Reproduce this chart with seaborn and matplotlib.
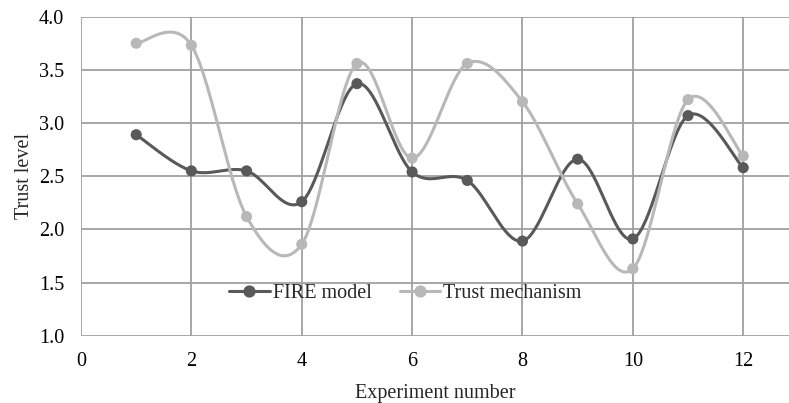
import numpy as np
import pandas as pd
import matplotlib.pyplot as plt
import seaborn as sns
from matplotlib.lines import Line2D

experiments = [1, 2, 3, 4, 5, 6, 7, 8, 9, 10, 11, 12]
fire_model = [2.89, 2.55, 2.55, 2.26, 3.37, 2.54, 2.46, 1.89, 2.66, 1.91, 3.07, 2.58]
trust_mechanism = [3.75, 3.73, 2.12, 1.86, 3.56, 2.67, 3.56, 3.20, 2.24, 1.63, 3.22, 2.69]

series_names = ['FIRE model', 'Trust mechanism']
series_colors = ['#595959', '#b8b8b8']


def smooth_curve(x, y, n=40):
    # Excel-style smoothed line: cubic Bezier segments with Catmull-Rom tangents
    x = np.asarray(x, float)
    y = np.asarray(y, float)
    px = np.concatenate([[x[0]], x, [x[-1]]])
    py = np.concatenate([[y[0]], y, [y[-1]]])
    xs, ys = [], []
    t = np.linspace(0, 1, n)
    for i in range(1, len(px) - 2):
        p0 = np.array([px[i], py[i]])
        p3 = np.array([px[i + 1], py[i + 1]])
        c1 = p0 + (np.array([px[i + 1], py[i + 1]]) - np.array([px[i - 1], py[i - 1]])) / 6
        c2 = p3 - (np.array([px[i + 2], py[i + 2]]) - np.array([px[i], py[i]])) / 6
        b = ((1 - t) ** 3)[:, None] * p0 + (3 * (1 - t) ** 2 * t)[:, None] * c1 \
            + (3 * (1 - t) * t ** 2)[:, None] * c2 + (t ** 3)[:, None] * p3
        xs.extend(b[:, 0])
        ys.extend(b[:, 1])
    return np.array(xs), np.array(ys)


sns.set_style('white')
plt.rcParams['font.family'] = ['Liberation Serif', 'DejaVu Serif']
fs = 14.5

fig = plt.figure(figsize=(7.89, 4.03), dpi=100)
ax = fig.add_axes([0.1027, 0.167, 0.8973, 0.7916])

for name, vals, col in zip(series_names, [fire_model, trust_mechanism], series_colors):
    sx, sy = smooth_curve(experiments, vals)
    sns.lineplot(x=sx, y=sy, ax=ax, color=col, linewidth=2.2, sort=False, zorder=3)
    sns.scatterplot(x=experiments, y=vals, ax=ax, color=col, s=64, edgecolor='none', zorder=4)

ax.set_xlim(0, 12.83)
ax.set_ylim(1.0, 4.0)
ax.set_xticks([0, 2, 4, 6, 8, 10, 12])
ax.set_yticks([1.0, 1.5, 2.0, 2.5, 3.0, 3.5, 4.0])
ax.set_yticklabels(['%.1f' % v for v in ax.get_yticks()])
ax.grid(True, color='#a0a0a0', linewidth=1.3)
ax.set_axisbelow(True)
for s in ax.spines.values():
    s.set_visible(False)
ax.tick_params(axis='both', length=0, labelsize=fs, colors='black')
ax.tick_params(axis='y', pad=12)
ax.tick_params(axis='x', pad=12)

ax.set_xlabel('Experiment number', fontsize=fs, labelpad=9)
ax.set_ylabel('Trust level', fontsize=fs, labelpad=4)

handles = [Line2D([0], [0], color=c, linewidth=2.2, marker='o', markersize=7.8)
           for c in series_colors]
ax.legend(handles, series_names, loc='center', bbox_to_anchor=(0.458, 0.131), ncol=2,
          frameon=False, fontsize=fs, handlelength=2.0, handletextpad=0.15, columnspacing=1.4)

fig.savefig('out.png', dpi=100)
